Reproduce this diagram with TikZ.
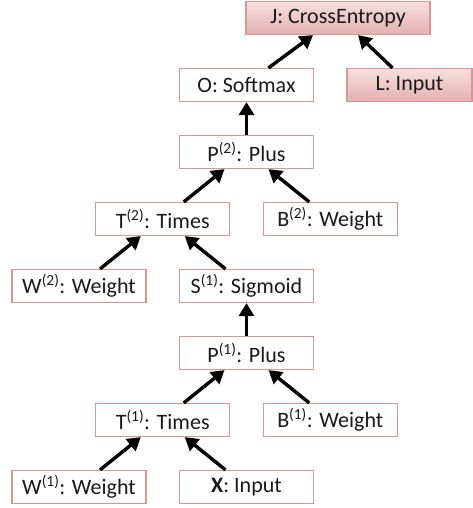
\documentclass[tikz,border=0pt]{standalone}
\usepackage{fontspec}
\setmainfont{Carlito}
\usetikzlibrary{arrows.meta}

\definecolor{boxline}{RGB}{217,150,148}
\definecolor{boxtop}{RGB}{246,224,224}
\definecolor{boxbot}{RGB}{229,176,176}
\definecolor{txt}{RGB}{25,25,30}

\tikzset{
    opbox/.style={draw=boxline, line width=1.2pt, minimum width=134pt, minimum height=33pt,
        inner sep=0pt, text=txt, font=\fontsize{22}{26}\selectfont},
    inbox/.style={opbox, top color=boxtop, bottom color=boxbot},
    link/.style={line width=3.4pt, -{Triangle[length=13pt,width=15pt]}}
}

\begin{document}
\begin{tikzpicture}[x=83.75pt, y=-67pt]
            \useasboundingbox (-79pt,18pt) rectangle (394pt,-490pt);
            % output layer
            \node[inbox, minimum width=184pt] (J) at (3.093,0) {J: CrossEntropy};
            \node[opbox] (O) at (2,1) {O: Softmax};
            \node[inbox, minimum width=125pt] (L) at (3.946,1) {L: Input};
            \node[opbox] (P2) at (2,2) {P\textsuperscript{(2)}: Plus};
            \node[opbox] (T2) at (1,3) {T\textsuperscript{(2)}: Times};
            \node[opbox] (B2) at (3,3) {B\textsuperscript{(2)}: Weight};
            \node[opbox] (W2) at (0,4) {W\textsuperscript{(2)}: Weight};
            \node[opbox] (S1) at (2,4) {S\textsuperscript{(1)}: Sigmoid};
            % hidden layer
            \node[opbox] (P1) at (2,5) {P\textsuperscript{(1)}: Plus};
            \node[opbox] (T1) at (1,6) {T\textsuperscript{(1)}: Times};
            \node[opbox] (B1) at (3,6) {B\textsuperscript{(1)}: Weight};
            \node[opbox] (W1) at (0,7) {W\textsuperscript{(1)}: Weight};
            \node[opbox] (X) at (2,7) {\textbf{X}: Input};

            \draw[link] ([xshift=22pt]O.north) -- ([xshift=-25pt]J.south);
            \draw[link] ([xshift=-17pt]L.north) -- ([xshift=20pt]J.south);
            \draw[link] (P2.north) -- (O.south);
            \draw[link] ([xshift=21pt]T2.north) -- ([xshift=-22pt]P2.south);
            \draw[link] ([xshift=-21pt]B2.north) -- ([xshift=22pt]P2.south);
            \draw[link] ([xshift=21pt]W2.north) -- ([xshift=-22pt]T2.south);
            \draw[link] ([xshift=-21pt]S1.north) -- ([xshift=22pt]T2.south);
            \draw[link] (P1.north) -- (S1.south);
            \draw[link] ([xshift=21pt]T1.north) -- ([xshift=-22pt]P1.south);
            \draw[link] ([xshift=-21pt]B1.north) -- ([xshift=22pt]P1.south);
            \draw[link] ([xshift=21pt]W1.north) -- ([xshift=-22pt]T1.south);
            \draw[link] ([xshift=-21pt]X.north) -- ([xshift=22pt]T1.south);
        \end{tikzpicture}
\end{document}
